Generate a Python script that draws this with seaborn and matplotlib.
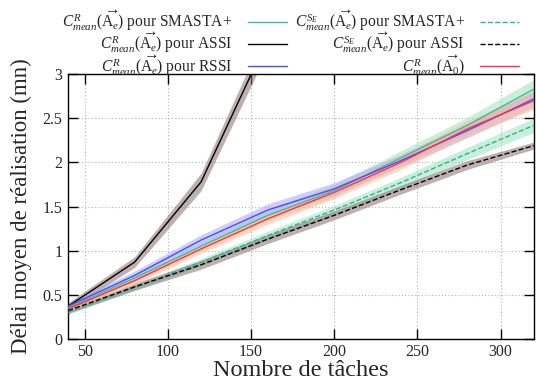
import numpy as np
import pandas as pd
import matplotlib
matplotlib.use("Agg")
import matplotlib.pyplot as plt
import seaborn as sns

# ---- data ----
x = [40, 80, 120, 160, 200, 240, 280, 320]
x_assi_r = [40, 80, 120, 160]
smasta_r = [0.35, 0.69, 1.05, 1.40, 1.68, 2.05, 2.42, 2.83]
smasta_r_err = [0.03, 0.04, 0.05, 0.06, 0.07, 0.08, 0.09, 0.11]
assi_r = [0.37, 0.87, 1.78, 3.40]
assi_r_err = [0.04, 0.06, 0.10, 0.14]
rssi_r = [0.37, 0.72, 1.12, 1.46, 1.70, 2.02, 2.36, 2.72]
rssi_r_err = [0.03, 0.05, 0.06, 0.07, 0.07, 0.07, 0.08, 0.09]
smasta_se = [0.30, 0.58, 0.87, 1.17, 1.46, 1.77, 2.10, 2.42]
smasta_se_err = [0.02, 0.03, 0.04, 0.05, 0.05, 0.06, 0.07, 0.08]
assi_se = [0.32, 0.59, 0.84, 1.13, 1.40, 1.69, 1.97, 2.19]
assi_se_err = [0.03, 0.04, 0.05, 0.05, 0.05, 0.05, 0.05, 0.04]
a0_r = [0.34, 0.66, 1.02, 1.36, 1.66, 2.00, 2.38, 2.70]
a0_r_err = [0.03, 0.04, 0.05, 0.06, 0.07, 0.08, 0.09, 0.10]

labels = [
    r"$C^{R}_{mean}(\overrightarrow{\mathrm{A}_e})$ pour SMASTA+",
    r"$C^{R}_{mean}(\overrightarrow{\mathrm{A}_e})$ pour ASSI",
    r"$C^{R}_{mean}(\overrightarrow{\mathrm{A}_e})$ pour RSSI",
    r"$C^{S_E}_{mean}(\overrightarrow{\mathrm{A}_e})$ pour SMASTA+",
    r"$C^{S_E}_{mean}(\overrightarrow{\mathrm{A}_e})$ pour ASSI",
    r"$C^{R}_{mean}(\overrightarrow{\mathrm{A}_0})$",
]
xticks = [50, 100, 150, 200, 250, 300]
yticks = [0, 0.5, 1, 1.5, 2, 2.5, 3]
ytick_labels = ["0", "0.5", "1", "1.5", "2", "2.5", "3"]

sns.set_style("ticks")
plt.rcParams["font.family"] = ["Liberation Serif", "DejaVu Serif"]
plt.rcParams["mathtext.fontset"] = "custom"
plt.rcParams["mathtext.rm"] = "Liberation Serif"
plt.rcParams["mathtext.it"] = "Liberation Serif:italic"
plt.rcParams["mathtext.bf"] = "Liberation Serif:bold"

fig = plt.figure(figsize=(5.36, 3.86), dpi=100)
ax = fig.add_axes([0.127, 0.122, 0.869, 0.686])

series = [
    (x, smasta_r, smasta_r_err, "#3dbf8f", "-", "#9fe0c0", labels[0]),
    (x_assi_r, assi_r, assi_r_err, "black", "-", "#8a7070", labels[1]),
    (x, rssi_r, rssi_r_err, "#4a4aff", "-", "#a8a8ff", labels[2]),
    (x, smasta_se, smasta_se_err, "#2ab58a", "--", "#9fe0c0", labels[3]),
    (x, assi_se, assi_se_err, "black", "--", "#8a7070", labels[4]),
    (x, a0_r, a0_r_err, "#ff3050", "-", "#ffb890", labels[5]),
]

for xs, ys, es, col, ls, bcol, lab in series:
    xs_a = np.array(xs); ys_a = np.array(ys); es_a = np.array(es)
    ax.fill_between(xs_a, ys_a - es_a, ys_a + es_a, color=bcol, alpha=0.55, lw=0, zorder=1)
for xs, ys, es, col, ls, bcol, lab in series:
    df = pd.DataFrame({"x": xs, "y": ys})
    sns.lineplot(data=df, x="x", y="y", ax=ax, color=col, linestyle=ls, lw=1.0,
                 label=lab, zorder=3, legend=False)

ax.set_xlim(40, 320)
ax.set_ylim(0, 3)
ax.set_xticks(xticks)
ax.set_yticks(yticks)
ax.set_yticklabels(ytick_labels)
ax.grid(True, linestyle=(0, (1, 2)), color="#b0b0b0", lw=0.8)
ax.tick_params(direction="in", top=True, right=True, length=7, labelsize=11.5, width=1,
               color="black", pad=4)
for s in ax.spines.values():
    s.set_color("black"); s.set_linewidth(1.0); s.set_visible(True)
ax.set_xlabel("Nombre de tâches", fontsize=17.5, labelpad=0)
ax.set_ylabel("Délai moyen de réalisation (mn)", fontsize=16.5, labelpad=8)

handles, labs = ax.get_legend_handles_labels()
order = [labs.index(l) for l in labels]
fig.legend([handles[i] for i in order], [labs[i] for i in order], ncol=2,
           loc="upper right", bbox_to_anchor=(0.995, 1.015), markerfirst=False,
           frameon=False, fontsize=11.2, handlelength=2.5, labelspacing=-0.15,
           columnspacing=0.5, handletextpad=1.0)

fig.savefig("out.png", dpi=100)
